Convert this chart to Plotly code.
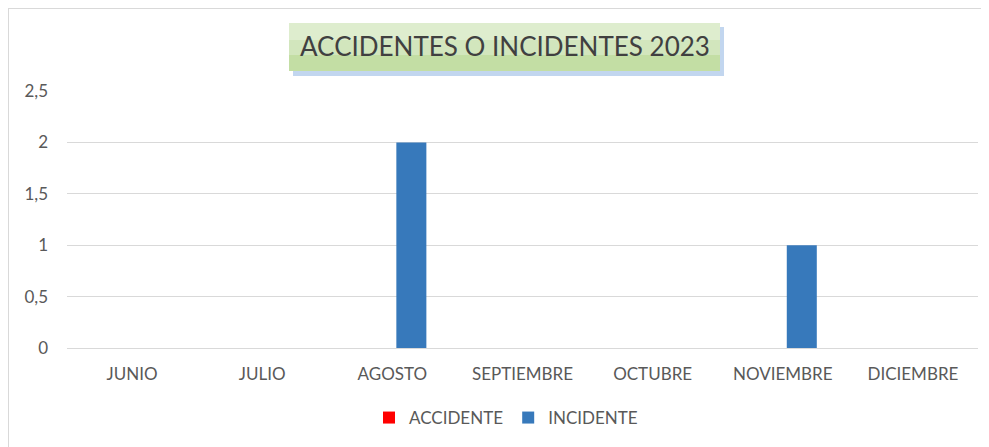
import plotly.graph_objects as go

months = ["JUNIO", "JULIO", "AGOSTO", "SEPTIEMBRE", "OCTUBRE", "NOVIEMBRE", "DICIEMBRE"]
accidente = [0, 0, 0, 0, 0, 0, 0]
incidente = [0, 0, 2, 0, 0, 1, 0]
y_ticks = [0, 0.5, 1, 1.5, 2, 2.5]
title_text = "ACCIDENTES O INCIDENTES 2023"

# page offset (body margin) is 8px
OFF = 8
W, H = 989 - OFF, 447 - OFF
# page-coordinate plot area: x 67..978, y 91..348
ML, MR, MT = 67 - OFF, 989 - 978, 91 - OFF
MB = (447 - 348)
PW, PH = W - ML - MR, H - MT - MB

def px(x):
    return (x - OFF - ML) / PW

def py(y):
    return (H - MB - (y - OFF)) / PH

FONT = "Lato"
TXT = "#595959"

fig = go.Figure()
fig.add_trace(go.Bar(x=months, y=accidente, name="ACCIDENTE",
                     marker=dict(color="#ff0000", line=dict(width=0))))
fig.add_trace(go.Bar(x=months, y=incidente, name="INCIDENTE",
                     marker=dict(color="#3779bb", line=dict(width=0))))

shapes = [
    # chart frame
    dict(type="line", xref="paper", yref="paper", x0=px(8), x1=px(1000), y0=py(8.5), y1=py(8.5),
         line=dict(color="#d9d9d9", width=1)),
    dict(type="line", xref="paper", yref="paper", x0=px(8.5), x1=px(8.5), y0=py(8), y1=py(460),
         line=dict(color="#d9d9d9", width=1)),
    # title shadow
    dict(type="rect", xref="paper", yref="paper", x0=px(293), x1=px(724), y0=py(27), y1=py(76),
         line=dict(width=0), fillcolor="rgba(120,165,220,0.45)", layer="below"),
    # title box (layered for a soft gradient)
    dict(type="rect", xref="paper", yref="paper", x0=px(289), x1=px(720), y0=py(23), y1=py(71),
         line=dict(width=0), fillcolor="#c3dea4", layer="below"),
    dict(type="rect", xref="paper", yref="paper", x0=px(289), x1=px(720), y0=py(23), y1=py(55),
         line=dict(width=0), fillcolor="#d2e6bd", layer="below"),
    dict(type="rect", xref="paper", yref="paper", x0=px(289), x1=px(720), y0=py(23), y1=py(40),
         line=dict(width=0), fillcolor="#deedce", layer="below"),
]

fig.add_annotation(text=title_text, xref="paper", yref="paper",
                   x=px(505), y=py(46), xanchor="center", yanchor="middle",
                   showarrow=False, font=dict(family=FONT, size=26, color="#404040"))

fig.update_layout(
    width=W, height=H,
    margin=dict(l=ML, r=MR, t=MT, b=MB, autoexpand=False),
    paper_bgcolor="white", plot_bgcolor="white",
    separators=",.",
    barmode="group", bargap=0.416, bargroupgap=0.21,
    shapes=shapes,
    font=dict(family=FONT, size=17, color=TXT),
    showlegend=True,
    legend=dict(orientation="h", x=px(506), xanchor="center", y=py(418), yanchor="middle",
                font=dict(family=FONT, size=17, color=TXT), itemwidth=30,
                traceorder="normal"),
    xaxis=dict(showgrid=False, showline=False, ticks="", tickfont=dict(size=17, color=TXT),
               ticklabelstandoff=14),
    yaxis=dict(range=[0, 2.5], tickvals=y_ticks, showgrid=True, gridcolor="#d9d9d9",
               gridwidth=1, zeroline=True, zerolinecolor="#d9d9d9", zerolinewidth=1,
               showline=False, ticks="", tickfont=dict(size=17, color=TXT),
               ticklabelstandoff=18),
)

fig.write_html("out.html")
